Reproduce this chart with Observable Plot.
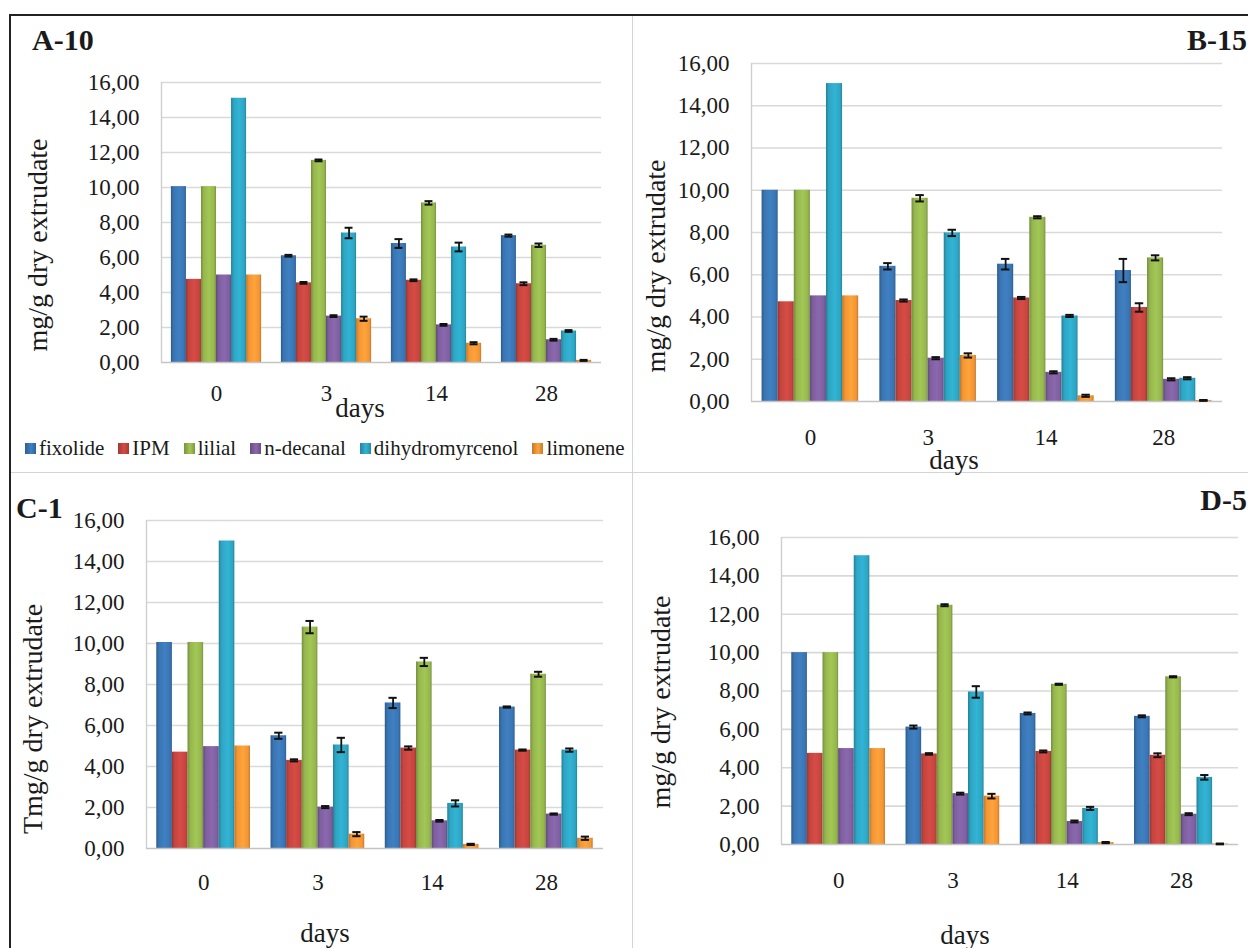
<!DOCTYPE html>
<html>
<head>
<meta charset="utf-8">
<script src="https://cdn.jsdelivr.net/npm/d3@7"></script>
<script src="https://cdn.jsdelivr.net/npm/@observablehq/plot@0.6"></script>
<style>
  html, body { margin: 0; padding: 0; background: #fff; }
  #fig { position: relative; width: 1248px; height: 948px; overflow: hidden; background: #fff;
         font-family: "Liberation Serif", "Times New Roman", serif !important; color: #1a1a1a; }
  #fig * { font-family: "Liberation Serif", "Times New Roman", serif !important; }
  .title { position: absolute; font-weight: bold; font-size: 30px; line-height: 30px; white-space: nowrap; transform: translateY(-50%); }
  .ylab { position: absolute; font-size: 28px; white-space: nowrap; transform: translate(-50%, -50%) rotate(-90deg); line-height: 28px; }
  .xlab { position: absolute; font-size: 27px; white-space: nowrap; transform: translate(-50%, -50%); line-height: 27px; }
  .legend { position: absolute; display: flex; align-items: center; font-size: 21px; white-space: nowrap; }
  .legend .item { display: flex; align-items: center; margin-right: 14px; }
  .legend .sw { width: 11px; height: 11px; margin-right: 3px; }
  .line { position: absolute; }
</style>
</head>
<body>
<div id="fig"></div>
<script>
// ---------- data ----------
const series = ["fixolide", "IPM", "lilial", "n-decanal", "dihydromyrcenol", "limonene"];
const days = ["0", "3", "14", "28"];
const yTicks = [0, 2, 4, 6, 8, 10, 12, 14, 16];
const seriesColors = ["#3a75b2", "#c5453f", "#95b64e", "#7e5f9f", "#2ea5c3", "#f29535"];

// rows = days (0, 3, 14, 28), columns = series
const a10Means = [
  [10.05, 4.75, 10.05, 5.0, 15.1, 5.0],
  [6.1, 4.55, 11.55, 2.65, 7.4, 2.5],
  [6.8, 4.7, 9.12, 2.15, 6.6, 1.1],
  [7.25, 4.5, 6.7, 1.3, 1.8, 0.12]
];
const a10Errors = [
  [0, 0, 0, 0, 0, 0],
  [0.05, 0.05, 0.05, 0.05, 0.3, 0.12],
  [0.25, 0.05, 0.1, 0.05, 0.25, 0.06],
  [0.06, 0.08, 0.1, 0.05, 0.05, 0.03]
];
const b15Means = [
  [10.0, 4.72, 10.0, 5.0, 15.05, 5.0],
  [6.4, 4.78, 9.62, 2.05, 7.98, 2.18],
  [6.5, 4.9, 8.72, 1.38, 4.05, 0.27],
  [6.2, 4.45, 6.8, 1.05, 1.1, 0.05]
];
const b15Errors = [
  [0, 0, 0, 0, 0, 0],
  [0.15, 0.05, 0.15, 0.05, 0.15, 0.1],
  [0.25, 0.05, 0.05, 0.05, 0.05, 0.05],
  [0.55, 0.2, 0.12, 0.05, 0.05, 0.02]
];
const c1Means = [
  [10.05, 4.7, 10.05, 4.97, 15.0, 5.0],
  [5.5, 4.3, 10.8, 2.02, 5.05, 0.7],
  [7.1, 4.9, 9.1, 1.35, 2.2, 0.2],
  [6.9, 4.8, 8.5, 1.68, 4.8, 0.5]
];
const c1Errors = [
  [0, 0, 0, 0, 0, 0],
  [0.15, 0.05, 0.3, 0.05, 0.35, 0.1],
  [0.25, 0.08, 0.2, 0.04, 0.15, 0.03],
  [0.03, 0.03, 0.12, 0.03, 0.08, 0.08]
];
const d5Means = [
  [10.0, 4.75, 10.0, 5.0, 15.05, 5.0],
  [6.12, 4.72, 12.47, 2.65, 7.95, 2.52],
  [6.83, 4.85, 8.35, 1.2, 1.88, 0.1],
  [6.68, 4.65, 8.74, 1.58, 3.5, 0.03]
];
const d5Errors = [
  [0, 0, 0, 0, 0, 0],
  [0.08, 0.04, 0.05, 0.05, 0.3, 0.12],
  [0.05, 0.05, 0.03, 0.05, 0.08, 0.03],
  [0.05, 0.1, 0.03, 0.05, 0.12, 0.02]
];

// ---------- layout ----------
const fig = document.getElementById("fig");
const FONT = '"Liberation Serif", "Times New Roman", serif';

// gradient defs shared by all plots
const defsSvg = d3.select(fig).append("svg").attr("width", 0).attr("height", 0)
  .style("position", "absolute").style("left", 0).style("top", 0);
const defs = defsSvg.append("defs");
seriesColors.forEach((c, i) => {
  const g = defs.append("linearGradient").attr("id", "grad" + i)
    .attr("x1", 0).attr("x2", 1).attr("y1", 0).attr("y2", 0);
  const base = d3.color(c);
  g.append("stop").attr("offset", "0%").attr("stop-color", base.darker(0.7));
  g.append("stop").attr("offset", "18%").attr("stop-color", base);
  g.append("stop").attr("offset", "55%").attr("stop-color", base.brighter(0.25));
  g.append("stop").attr("offset", "88%").attr("stop-color", base);
  g.append("stop").attr("offset", "100%").attr("stop-color", base.darker(0.6));
});
const gradUrls = seriesColors.map((c, i) => `url(#grad${i})`);

// frame lines of the figure
function line(x, y, w, h, color) {
  const d = document.createElement("div");
  d.className = "line";
  Object.assign(d.style, { left: x + "px", top: y + "px", width: w + "px", height: h + "px", background: color });
  fig.appendChild(d);
}
line(632, 15, 1, 933, "#d4d4d4");
line(10, 472, 1238, 1, "#d4d4d4");
line(10, 14, 1238, 2, "#222");
line(9, 14, 2, 934, "#222");

const groupWidth = 0.82;
const barW = groupWidth / series.length;
const capHalf = 0.036;

function panel(cfg) {
  const rows = [];
  cfg.means.forEach((r, di) => r.forEach((v, si) => {
    rows.push({ di, si, series: series[si], v, e: cfg.errors[di][si] });
  }));
  rows.forEach(d => {
    d.x1 = d.di - groupWidth / 2 + d.si * barW;
    d.x2 = d.x1 + barW;
    d.xc = (d.x1 + d.x2) / 2;
  });
  const errs = rows.filter(d => d.e > 0);
  const mL = 90, mR = 6, mT = 12, mB = 55;
  const w = cfg.right - cfg.left + mL + mR;
  const h = cfg.bottom - cfg.top + mT + mB;
  const plot = Plot.plot({
    width: w, height: h,
    marginLeft: mL, marginRight: mR, marginTop: mT, marginBottom: mB,
    style: { fontFamily: FONT, color: "#1a1a1a", background: "transparent", overflow: "visible" },
    x: { domain: [-0.5, 3.5], axis: null },
    y: { domain: [0, 16], axis: null },
    color: { type: "ordinal", domain: series, range: gradUrls },
    marks: [
      Plot.ruleY(yTicks.filter(t => t > 0), { stroke: "#d9d9d9", strokeWidth: 1.6 }),
      Plot.ruleX([-0.5], { y1: 0, y2: 16, stroke: "#cfcfcf", strokeWidth: 1.4 }),
      Plot.rect(rows, { x1: "x1", x2: "x2", y1: 0, y2: "v", fill: "series" }),
      Plot.ruleY([0], { stroke: "#c4c4c4", strokeWidth: 1.6 }),
      Plot.ruleX(errs, { x: "xc", y1: d => d.v - d.e, y2: d => d.v + d.e, stroke: "#111", strokeWidth: 1.8 }),
      Plot.ruleY(errs, { x1: d => d.xc - capHalf, x2: d => d.xc + capHalf, y: d => d.v + d.e, stroke: "#111", strokeWidth: 2 }),
      Plot.ruleY(errs, { x1: d => d.xc - capHalf, x2: d => d.xc + capHalf, y: d => d.v - d.e, stroke: "#111", strokeWidth: 2 }),
      Plot.axisY({ ticks: yTicks, tickFormat: t => t.toFixed(2).replace(".", ","), tickSize: 0, tickPadding: 22, fontSize: 23, fontFamily: FONT, label: null }),
      Plot.axisX({ ticks: [0, 1, 2, 3], tickFormat: i => days[i], tickSize: 0, tickPadding: cfg.xPad, fontSize: 23, fontFamily: FONT, label: null })
    ]
  });
  plot.style.position = "absolute";
  plot.style.left = (cfg.left - mL) + "px";
  plot.style.top = (cfg.top - mT) + "px";
  plot.querySelectorAll("text").forEach(t => t.setAttribute("font-family", FONT));
  fig.appendChild(plot);

  const t = document.createElement("div");
  t.className = "title";
  t.textContent = cfg.title;
  if (cfg.titleRight != null) {
    t.style.right = cfg.titleRight + "px";
  } else {
    t.style.left = cfg.titleX + "px";
  }
  t.style.top = cfg.titleY + "px";
  fig.appendChild(t);

  const yl = document.createElement("div");
  yl.className = "ylab";
  yl.textContent = cfg.ylabel;
  yl.style.left = cfg.ylabX + "px";
  yl.style.top = cfg.ylabY + "px";
  fig.appendChild(yl);

  const xl = document.createElement("div");
  xl.className = "xlab";
  xl.textContent = "days";
  xl.style.left = cfg.xlabX + "px";
  xl.style.top = cfg.xlabY + "px";
  fig.appendChild(xl);
}

panel({ title: "A-10", titleX: 32, titleY: 40, means: a10Means, errors: a10Errors,
  left: 161, right: 601, top: 82, bottom: 362, xPad: 22,
  ylabel: "mg/g dry extrudate", ylabX: 38, ylabY: 245, xlabX: 360, xlabY: 408 });
panel({ title: "B-15", titleRight: 1, titleY: 40, means: b15Means, errors: b15Errors,
  left: 751, right: 1222, top: 63, bottom: 401, xPad: 27,
  ylabel: "mg/g dry extrudate", ylabX: 656, ylabY: 266, xlabX: 954, xlabY: 460 });
panel({ title: "C-1", titleX: 16, titleY: 508, means: c1Means, errors: c1Errors,
  left: 146, right: 603, top: 520, bottom: 848, xPad: 25,
  ylabel: "Tmg/g dry extrudate", ylabX: 33, ylabY: 719, xlabX: 325, xlabY: 933 });
panel({ title: "D-5", titleRight: 1, titleY: 500, means: d5Means, errors: d5Errors,
  left: 781, right: 1238, top: 537, bottom: 844, xPad: 27,
  ylabel: "mg/g dry extrudate", ylabX: 661, ylabY: 702, xlabX: 965, xlabY: 935 });

// legend (panel A)
const legend = document.createElement("div");
legend.className = "legend";
legend.style.left = "25px";
legend.style.top = "436px";
legend.style.height = "24px";
series.forEach((s, i) => {
  const item = document.createElement("div");
  item.className = "item";
  const sw = document.createElement("div");
  sw.className = "sw";
  const c = d3.color(seriesColors[i]);
  sw.style.background = `linear-gradient(to right, ${c.darker(0.6)}, ${c.brighter(0.25)} 55%, ${c.darker(0.5)})`;
  const tx = document.createElement("span");
  tx.textContent = s;
  item.appendChild(sw);
  item.appendChild(tx);
  legend.appendChild(item);
});
fig.appendChild(legend);
</script>
</body>
</html>
